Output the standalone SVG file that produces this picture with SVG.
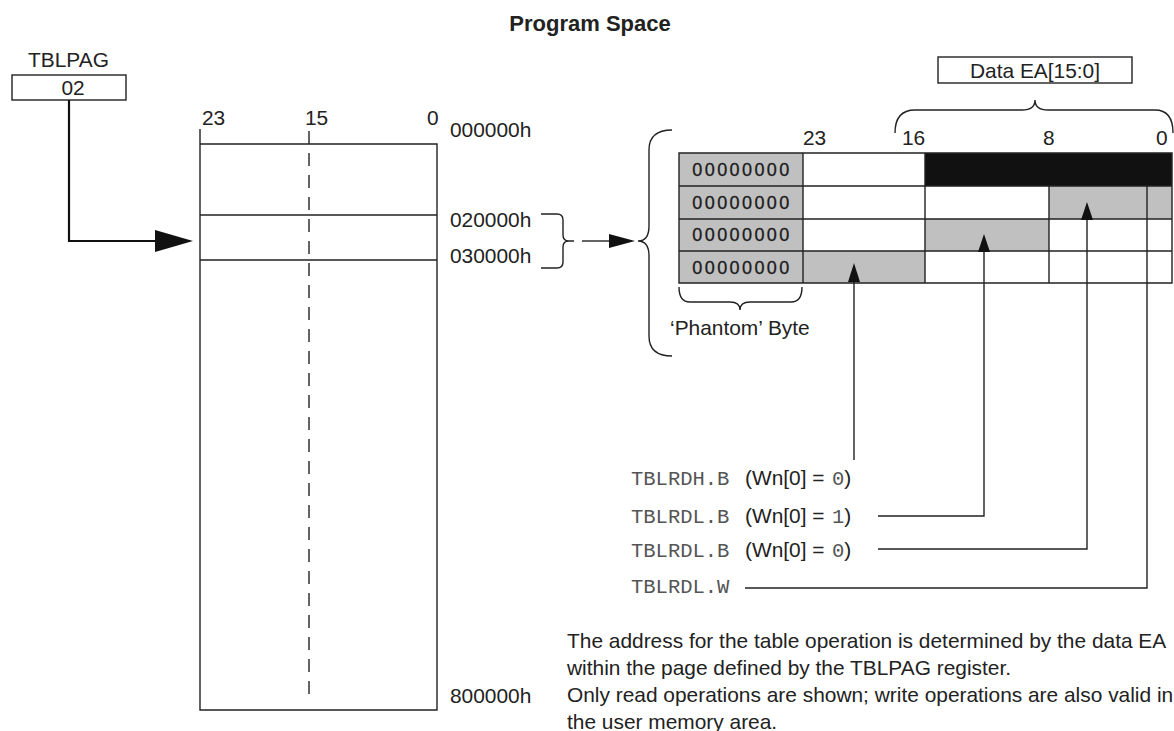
<svg xmlns="http://www.w3.org/2000/svg" width="1174" height="731" viewBox="0 0 1174 731">
<defs>
<style>
.s{font-family:"Liberation Sans",Arial,sans-serif;font-size:20.9px;fill:#222}
.m{font-family:"Liberation Mono","Courier New",monospace;font-size:20.5px;fill:#555}
.b{font-family:"Liberation Sans",Arial,sans-serif;font-size:22px;font-weight:bold;fill:#222}
.ph{font-family:"Liberation Sans",Arial,sans-serif;font-size:18px;fill:#1a1a1a;letter-spacing:2.4px;stroke:#1a1a1a;stroke-width:0.3}
.ln{fill:none;stroke:#222;stroke-width:1.4}
.gr{fill:#c0c0c0}
.ah{fill:#111}
</style>
</defs>
<rect width="1174" height="731" fill="#fff"/>
<text class="b" x="590" y="31" text-anchor="middle">Program Space</text>

<g id="tblpag">
<text class="s" x="28" y="67">TBLPAG</text>
<rect class="ln" x="12" y="75" width="114" height="25"/>
<text class="s" x="73" y="95" text-anchor="middle">02</text>
</g>

<g id="program-memory">
<path class="ln" d="M200,129 V710 H437 V144 H200 M200,215 H437 M200,260 H437"/>
<line class="ln" x1="309" y1="131" x2="309" y2="696" stroke-dasharray="13 9"/>
<text class="s" x="202" y="125">23</text>
<text class="s" x="305" y="125">15</text>
<text class="s" x="427" y="125">0</text>
<text class="s" x="450" y="137">000000h</text>
<text class="s" x="450" y="227">020000h</text>
<text class="s" x="450" y="263">030000h</text>
<text class="s" x="450" y="703">800000h</text>
<path class="ln" d="M541,214 H557 Q563,214 563,220 V235 Q563,241 569,241 H574 M569,241 Q563,241 563,247 V262 Q563,268 557,268 H541"/>
</g>

<g id="data-table">
<rect class="gr" x="679" y="153" width="124" height="130"/>
<rect fill="#111" x="925" y="153" width="247" height="33"/>
<rect class="gr" x="1049" y="186" width="123" height="33"/>
<rect class="gr" x="925" y="219" width="124" height="32"/>
<rect class="gr" x="803" y="251" width="122" height="32"/>
<path class="ln" d="M679,153 H1172 V283 H679 Z M679,186 H1172 M679,219 H1172 M679,251 H1172 M803,153 V283 M925,153 V283 M1049,186 V283 M1147,186 V283"/>
<text class="ph" x="742" y="176" text-anchor="middle">00000000</text>
<text class="ph" x="742" y="209" text-anchor="middle">00000000</text>
<text class="ph" x="742" y="241" text-anchor="middle">00000000</text>
<text class="ph" x="742" y="274" text-anchor="middle">00000000</text>
<text class="s" x="803" y="145">23</text>
<text class="s" x="902" y="145">16</text>
<text class="s" x="1043" y="145">8</text>
<text class="s" x="1156" y="145">0</text>
<path class="ln" d="M672,130 Q649,130 649,150 V226 Q649,241 638,241 Q649,241 649,256 V336 Q649,356 672,356"/>
<path class="ln" d="M895,133 Q895,110 915,110 H1022 Q1035,110 1035,100 Q1035,110 1048,110 H1155 Q1173,110 1173,133"/>
<path class="ln" d="M679,287 Q679,302 690,302 H730 Q740,302 740,310 Q740,302 750,302 H791 Q802,302 802,287"/>
<text class="s" x="670" y="335">‘Phantom’ Byte</text>
</g>

<g id="data-ea">
<rect class="ln" x="938" y="57" width="194" height="26"/>
<text class="s" x="1035" y="78" text-anchor="middle">Data EA[15:0]</text>
</g>

<g id="instr-labels">
<text x="631" y="485"><tspan class="m">TBLRDH.B</tspan><tspan class="s" x="745">(Wn[0] = </tspan><tspan class="m" x="832">0</tspan><tspan class="s">)</tspan></text>
<text x="631" y="523"><tspan class="m">TBLRDL.B</tspan><tspan class="s" x="745">(Wn[0] = </tspan><tspan class="m" x="832">1</tspan><tspan class="s">)</tspan></text>
<text x="631" y="557"><tspan class="m">TBLRDL.B</tspan><tspan class="s" x="745">(Wn[0] = </tspan><tspan class="m" x="832">0</tspan><tspan class="s">)</tspan></text>
<text class="m" x="631" y="593">TBLRDL.W</text>
</g>

<g id="notes">
<text class="s" x="567" y="648">The address for the table operation is determined by the data EA</text>
<text class="s" x="567" y="675">within the page defined by the TBLPAG register.</text>
<text class="s" x="567" y="702">Only read operations are shown; write operations are also valid in</text>
<text class="s" x="567" y="729">the user memory area.</text>
</g>

<g id="connectors">
<path d="M69,100 V241 H160" fill="none" stroke="#111" stroke-width="2.2"/>
<polygon class="ah" points="155,230 193,241 155,252"/>
<line class="ln" x1="582" y1="241" x2="612" y2="241" stroke-width="2"/>
<polygon class="ah" points="609,234 635,241 609,248"/>
<path class="ln" d="M854,282 V460"/>
<polygon class="ah" points="854,263 848,282 860,282"/>
<path class="ln" d="M984,252 V516 H878"/>
<polygon class="ah" points="984,234 978,252 990,252"/>
<path class="ln" d="M1087,220 V549 H878"/>
<polygon class="ah" points="1087,202 1081,220 1093,220"/>
<path class="ln" d="M1147,283 V588 H745"/>
</g>
</svg>
